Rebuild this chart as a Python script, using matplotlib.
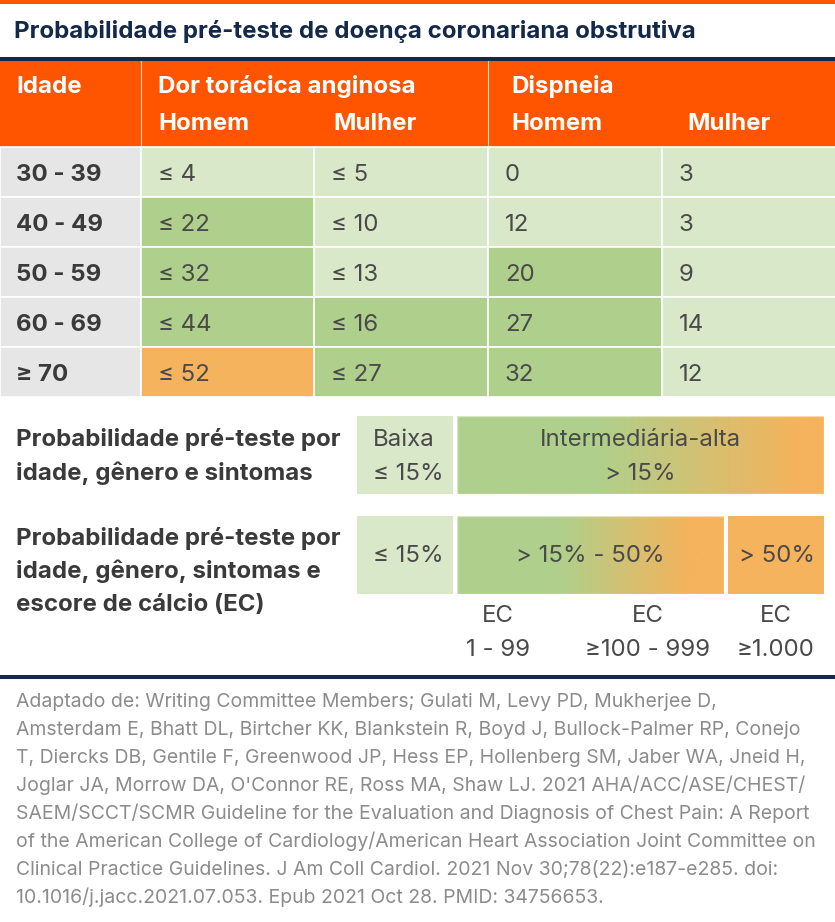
import numpy as np
import matplotlib.pyplot as plt
from matplotlib.patches import Rectangle
from matplotlib.colors import LinearSegmentedColormap

plt.rcParams['font.family'] = ['Inter', 'DejaVu Sans']

# data
idades = ["30 - 39", "40 - 49", "50 - 59", "60 - 69", "≥ 70"]
dor_homem = [4, 22, 32, 44, 52]
dor_mulher = [5, 10, 13, 16, 27]
disp_homem = [0, 12, 20, 27, 32]
disp_mulher = [3, 3, 9, 14, 12]
limiares = [15, 50]   # baixa / intermediaria / alta

titulo = "Probabilidade pré-teste de doença coronariana obstrutiva"
rotulo_1 = ["Probabilidade pré-teste por", "idade, gênero e sintomas"]
rotulo_2 = ["Probabilidade pré-teste por", "idade, gênero, sintomas e", "escore de cálcio (EC)"]
faixas_ec = [("EC", "1 - 99"), ("EC", "≥100 - 999"), ("EC", "≥1.000")]
fonte = [
    "Adaptado de: Writing Committee Members; Gulati M, Levy PD, Mukherjee D,",
    "Amsterdam E, Bhatt DL, Birtcher KK, Blankstein R, Boyd J, Bullock-Palmer RP, Conejo",
    "T, Diercks DB, Gentile F, Greenwood JP, Hess EP, Hollenberg SM, Jaber WA, Jneid H,",
    "Joglar JA, Morrow DA, O'Connor RE, Ross MA, Shaw LJ. 2021 AHA/ACC/ASE/CHEST/",
    "SAEM/SCCT/SCMR Guideline for the Evaluation and Diagnosis of Chest Pain: A Report",
    "of the American College of Cardiology/American Heart Association Joint Committee on",
    "Clinical Practice Guidelines. J Am Coll Cardiol. 2021 Nov 30;78(22):e187-e285. doi:",
    "10.1016/j.jacc.2021.07.053. Epub 2021 Oct 28. PMID: 34756653.",
]

# colours
laranja = "#ff5500"
navy = "#13294b"
cinza = "#e6e6e6"
verde_claro = "#d9e8c9"
verde = "#afd08c"
laranja_claro = "#f4b35c"
texto = "#4a4a4a"
texto_bold = "#3a3a3a"

FS = 17.3


def cor(v):
    if v <= limiares[0]:
        return verde_claro
    if v <= limiares[1]:
        return verde
    return laranja_claro


W, H = 835, 922
fig = plt.figure(figsize=(W / 100, H / 100), dpi=100)
ax = fig.add_axes([0, 0, 1, 1])
ax.set_xlim(0, W)
ax.set_ylim(H, 0)
ax.axis("off")

# top strip + title
ax.add_patch(Rectangle((0, 0), W, 4, color=laranja, lw=0))
ax.text(14, 38, titulo, fontsize=FS, fontweight="bold", color=navy, va="baseline")
ax.add_patch(Rectangle((0, 57), W, 4, color=navy, lw=0))

# header
ax.add_patch(Rectangle((0, 61), W, 86, color=laranja, lw=0))
ax.plot([141, 141], [61, 147], color="white", lw=0.8, alpha=0.8)
ax.plot([488, 488], [61, 147], color="white", lw=0.8, alpha=0.8)
hkw = dict(fontsize=FS, fontweight="bold", color="white", va="baseline")
ax.text(16, 93, "Idade", **hkw)
ax.text(158, 93, "Dor torácica anginosa", **hkw)
ax.text(511, 93, "Dispneia", **hkw)
for x, s in [(158, "Homem"), (333, "Mulher"), (511, "Homem"), (687, "Mulher")]:
    ax.text(x, 130, s, **hkw)

# table body
col_x = [141, 314, 488, 662]
col_w = 174
row_y0, row_h = 147, 50
colunas = [(dor_homem, "≤ {}"), (dor_mulher, "≤ {}"), (disp_homem, "{}"), (disp_mulher, "{}")]
for i, idade in enumerate(idades):
    y = row_y0 + i * row_h
    ax.add_patch(Rectangle((0, y), 141, row_h, facecolor=cinza, edgecolor="white", lw=1.2))
    ax.text(16, y + 34, idade, fontsize=FS, fontweight="bold", color=texto_bold, va="baseline")
    for j, (vals, fmt) in enumerate(colunas):
        ax.add_patch(Rectangle((col_x[j], y), col_w, row_h, facecolor=cor(vals[i]),
                               edgecolor="white", lw=1.2))
        ax.text(col_x[j] + 17, y + 34, fmt.format(vals[i]), fontsize=FS, color=texto,
                va="baseline")

# gradient boxes
grad = LinearSegmentedColormap.from_list("g", [(0, verde), (0.38, verde), (0.93, laranja_claro), (1, laranja_claro)])


def caixa_grad(x0, x1, y0, y1, cmap):
    ax.imshow(np.linspace(0, 1, 256)[None, :], cmap=cmap, aspect="auto",
              extent=(x0, x1, y1, y0), interpolation="bilinear", zorder=1)
    ax.add_patch(Rectangle((x0, y0), x1 - x0, y1 - y0, fill=False, edgecolor="white",
                           lw=1, alpha=0.5, zorder=2))


bkw = dict(fontsize=FS, color=texto, va="baseline")
lkw = dict(fontsize=FS, fontweight="bold", color=texto_bold, va="baseline")

# row 1
for k, s in enumerate(rotulo_1):
    ax.text(16, 446 + 34 * k, s, **lkw)
ax.add_patch(Rectangle((357, 416), 96, 78, facecolor=verde_claro, edgecolor="none"))
ax.text(373, 446, "Baixa", **bkw)
ax.text(373, 480, "≤ 15%", **bkw)
caixa_grad(457, 824, 416, 494, grad)
ax.text(640, 446, "Intermediária-alta", ha="center", **bkw)
ax.text(640, 480, "> 15%", ha="center", **bkw)

# row 2
for k, s in enumerate(rotulo_2):
    ax.text(16, 545 + 33 * k, s, **lkw)
ax.add_patch(Rectangle((357, 516), 96, 78, facecolor=verde_claro, edgecolor="none"))
ax.text(373, 562, "≤ 15%", **bkw)
grad2 = LinearSegmentedColormap.from_list("g2", [(0, verde), (0.38, verde), (0.87, laranja_claro), (1, laranja_claro)])
caixa_grad(457, 724, 516, 594, grad2)
ax.text(590, 562, "> 15% - 50%", ha="center", **bkw)
ax.add_patch(Rectangle((728, 516), 96, 78, facecolor=laranja_claro, edgecolor="none"))
ax.text(777, 562, "> 50%", ha="center", **bkw)

for xc, (a, b) in zip([498, 648, 776], faixas_ec):
    ax.text(xc, 622, a, ha="center", **bkw)
    ax.text(xc, 656, b, ha="center", **bkw)

ax.add_patch(Rectangle((0, 675), W, 4, color=navy, lw=0))

# source
for k, s in enumerate(fonte):
    ax.text(16, 707 + 28 * k, s, fontsize=14, color="#8c8c8c", va="baseline")

fig.savefig("out.png", dpi=100)
